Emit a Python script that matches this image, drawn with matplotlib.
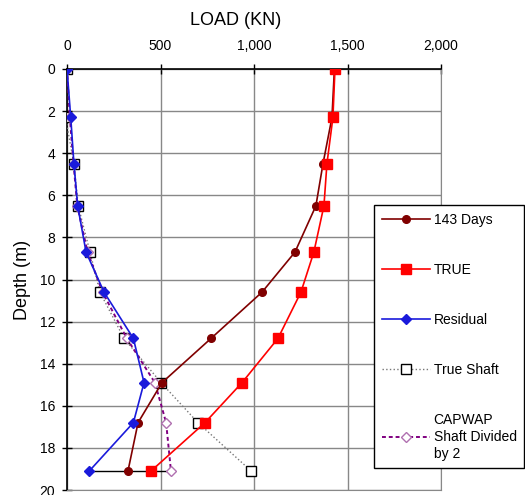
import matplotlib
matplotlib.use("Agg")
import matplotlib.pyplot as plt
from matplotlib.ticker import FuncFormatter

plt.rcParams['font.family'] = ['Liberation Sans', 'DejaVu Sans']

depth = [0, 2.3, 4.5, 6.5, 8.7, 10.6, 12.8, 14.9, 16.8, 19.1]
days143 = [1430, 1417, 1369, 1331, 1219, 1043, 770, 508, 380, 326]
true_load = [1433, 1422, 1390, 1374, 1320, 1251, 1128, 936, 738, 449]
residual = [0, 20, 37, 57, 102, 198, 355, 412, 355, 119]
true_shaft = [0, -8, 37, 60, 123, 176, 305, 503, 700, 985]
capwap_half = [0, 15, 35, 55, 110, 190, 320, 470, 530, 556]

x_ticks = [0, 500, 1000, 1500, 2000]
y_ticks = [0, 2, 4, 6, 8, 10, 12, 14, 16, 18, 20]

fig = plt.figure(figsize=(5.25, 4.95), dpi=100)
ax = fig.add_axes([67/525, 1-490/495, (441-67)/525, (490-69)/495])

ax.plot(days143, depth, color='#800000', lw=1.2, marker='o', ms=5.5,
        label='143 Days', zorder=4)
ax.plot(true_load, depth, color='#FF0000', lw=1.2, marker='s', ms=6.5,
        label='TRUE', zorder=5)
ax.plot(residual, depth, color='#1a1adb', lw=1.2, marker='D', ms=5,
        label='Residual', zorder=6)
ax.plot(true_shaft, depth, color='#777777', lw=1.0, ls=':', marker='s', ms=7,
        mfc='white', mec='black', mew=1.0, label='True Shaft', zorder=3)
ax.plot(capwap_half, depth, color='#800080', lw=1.4, ls=(0, (2, 1.5)),
        marker='D', ms=5, mfc='white', mec='#b070b0', mew=1.0,
        label='CAPWAP\nShaft Divided\nby 2', zorder=3)
ax.plot([residual[-1], capwap_half[-1]], [depth[-1], depth[-1]],
        color='black', lw=1.0, zorder=2)

ax.set_xlim(0, 2000)
ax.set_ylim(20, 0)
ax.xaxis.tick_top()
ax.xaxis.set_label_position('top')
ax.set_xticks(x_ticks)
ax.set_yticks(y_ticks)
ax.xaxis.set_major_formatter(FuncFormatter(lambda v, p: f"{int(v):,}"))
ax.set_xlabel('LOAD (KN)', fontsize=13)
ax.xaxis.set_label_coords(0.452, 1.116)
ax.xaxis.label.set_va('center')
ax.set_ylabel('Depth (m)', fontsize=13, labelpad=6)
ax.tick_params(axis='both', labelsize=10, direction='inout', length=7,
               width=1, colors='black')
ax.tick_params(axis='x', pad=8)
ax.tick_params(axis='y', pad=5)
ax.grid(True, color='#888888', lw=1.0)
ax.set_axisbelow(True)
for s in ['right', 'bottom']:
    ax.spines[s].set_color('#888888')
for s in ['top', 'left']:
    ax.spines[s].set_color('black')
    ax.spines[s].set_linewidth(1.2)

leg = ax.legend(loc='upper left', bbox_to_anchor=(374/525, 1-205/495),
                bbox_transform=fig.transFigure, borderaxespad=0,
                fontsize=10, frameon=True, fancybox=False, labelspacing=2.6,
                handlelength=3.5, handletextpad=0.25, borderpad=0.55)
leg.get_frame().set_edgecolor('black')
leg.get_frame().set_linewidth(1.0)
leg.get_frame().set_alpha(1)
for t in leg.get_texts():
    t.set_linespacing(1.25)

fig.savefig('out.png', dpi=100)
